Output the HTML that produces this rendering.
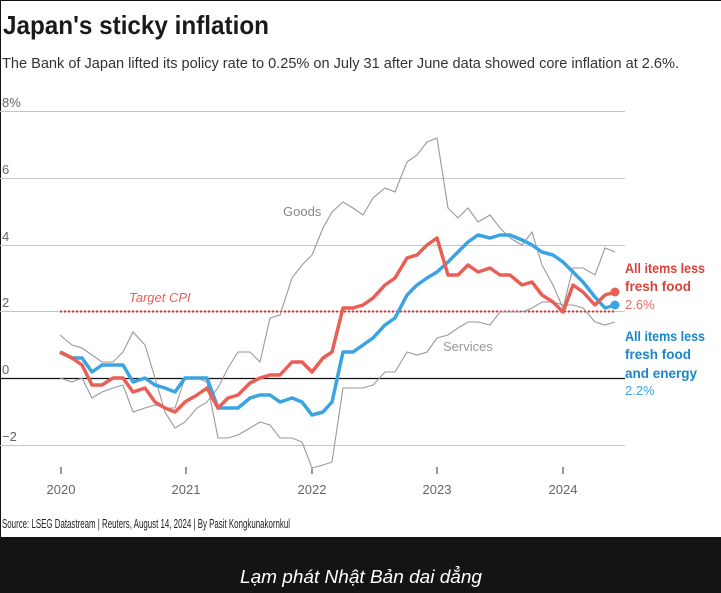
<!DOCTYPE html>
<html><head><meta charset="utf-8"><style>
html,body{margin:0;padding:0;background:#fff}
body{width:721px;height:593px;overflow:hidden;position:relative}
svg{position:absolute;left:0;top:0}
</style></head><body>
<svg width="721" height="593" viewBox="0 0 721 593" font-family="Liberation Sans, sans-serif">
<rect x="0" y="0" width="721" height="593" fill="#fff"/>
<line x1="0.5" y1="0" x2="0.5" y2="537" stroke="#111" stroke-width="1"/>
<line x1="0" y1="0.5" x2="721" y2="0.5" stroke="#111" stroke-width="1"/>
<text x="3" y="34" font-size="26" font-weight="bold" fill="#1a1a1a" textLength="266" lengthAdjust="spacingAndGlyphs">Japan's sticky inflation</text>
<text x="2" y="68" font-size="15" fill="#333" textLength="677" lengthAdjust="spacingAndGlyphs">The Bank of Japan lifted its policy rate to 0.25% on July 31 after June data showed core inflation at 2.6%.</text>
<g font-size="13" fill="#666">
<text x="2" y="107">8%</text>
<text x="2" y="174">6</text>
<text x="2" y="241">4</text>
<text x="2" y="307">2</text>
<text x="2" y="374">0</text>
<text x="2" y="441">−2</text>
</g>
<g stroke="#c4c4c4" stroke-width="1">
<line x1="0" y1="111.5" x2="625" y2="111.5"/>
<line x1="0" y1="178.5" x2="625" y2="178.5"/>
<line x1="0" y1="245.5" x2="625" y2="245.5"/>
<line x1="0" y1="311.5" x2="625" y2="311.5"/>
<line x1="0" y1="445.5" x2="625" y2="445.5"/>
</g>
<line x1="0" y1="378.5" x2="625" y2="378.5" stroke="#111" stroke-width="1.2"/>
<g stroke="#333" stroke-width="1">
<line x1="61" y1="467" x2="61" y2="474"/><line x1="186" y1="467" x2="186" y2="474"/><line x1="312" y1="467" x2="312" y2="474"/><line x1="437" y1="467" x2="437" y2="474"/><line x1="563" y1="467" x2="563" y2="474"/>
</g>
<g font-size="13" fill="#666" text-anchor="middle">
<text x="61" y="494">2020</text><text x="186" y="494">2021</text><text x="312" y="494">2022</text><text x="437" y="494">2023</text><text x="563" y="494">2024</text>
</g>
<line x1="60" y1="311.5" x2="615" y2="311.5" stroke="#e03030" stroke-width="2" stroke-dasharray="2,2"/>
<text x="129" y="302" font-size="13" font-style="italic" fill="#e8625a">Target CPI</text>
<g fill="none" stroke="#999" stroke-width="1.1">
<polyline points="60,335 72,345 82,348 92,355 102,362 113,362 123,352 133,332 145,345 155,378 165,412 175,428 185,422 197,408 207,402 218,388 228,368 238,352 250,352 260,362 270,318 280,315 292,278 302,265 312,255 323,228 332,212 343,202 353,208 363,215 373,198 385,188 395,192 407,162 417,155 427,142 437,138 448,208 458,218 468,208 478,222 490,215 500,228 510,238 522,245 532,232 542,265 553,285 563,308 573,268 583,268 595,275 605,248 615,252"/>
<polyline points="60,378 72,382 82,378 92,398 102,392 113,388 123,385 133,412 145,408 155,405 165,408 175,408 185,378 197,378 207,382 218,438 228,438 238,435 250,428 260,422 270,425 280,438 292,438 302,442 312,468 323,465 332,462 343,388 353,388 363,388 373,385 385,372 395,372 407,352 417,355 427,352 437,338 448,335 458,328 468,322 478,322 490,325 500,312 510,312 522,312 532,308 542,302 553,302 563,305 573,305 583,308 595,322 605,325 615,322"/>
</g>
<text x="283" y="216" font-size="13" fill="#888">Goods</text>
<text x="443" y="351" font-size="13" fill="#999">Services</text>
<polyline fill="none" stroke="#3aa3e3" stroke-width="3.5" stroke-linejoin="round" points="60,352 72,358 82,358 92,372 102,365 113,365 123,365 133,382 145,378 155,385 165,388 175,392 185,378 197,378 207,378 218,408 228,408 238,408 250,398 260,395 270,395 280,402 292,398 302,402 312,415 323,412 332,402 343,352 353,352 363,345 373,338 385,325 395,318 407,295 417,285 427,278 437,272 448,262 458,252 468,242 478,235 490,238 500,235 510,235 522,240 532,245 542,252 553,255 563,262 573,272 583,282 595,297 605,308 615,305"/>
<polyline fill="none" stroke="#ea5f55" stroke-width="3.5" stroke-linejoin="round" points="60,352 72,358 82,365 92,385 102,385 113,378 123,378 133,392 145,388 155,402 165,408 175,412 185,402 197,395 207,388 218,408 228,398 238,395 250,383 260,378 270,375 280,375 292,362 302,362 312,372 323,358 332,352 343,308 353,308 363,305 373,298 385,285 395,278 407,258 417,255 427,245 437,238 448,275 458,275 468,265 478,272 490,268 500,275 510,275 522,285 532,282 542,295 553,302 563,312 573,285 583,292 595,305 605,295 615,292"/>
<circle cx="615" cy="292" r="4.5" fill="#ea5f55"/>
<circle cx="615" cy="305" r="4.5" fill="#3aa3e3"/>
<g font-size="13.5" font-weight="bold" fill="#d9433b">
<text x="625" y="273" textLength="80" lengthAdjust="spacingAndGlyphs">All items less</text><text x="625" y="291">fresh food</text>
</g>
<text x="625" y="309" font-size="13" fill="#ea6a62">2.6%</text>
<g font-size="13.5" font-weight="bold" fill="#1a86c8">
<text x="625" y="341" textLength="80" lengthAdjust="spacingAndGlyphs">All items less</text><text x="625" y="359">fresh food</text><text x="625" y="378">and energy</text>
</g>
<text x="625" y="395" font-size="13" fill="#3aa3e3">2.2%</text>
<text x="2" y="528" font-size="12.5" fill="#222" textLength="288" lengthAdjust="spacingAndGlyphs">Source: LSEG Datastream | Reuters, August 14, 2024 | By Pasit Kongkunakornkul</text>
<rect x="0" y="537" width="721" height="56" fill="#141414"/>
<text x="361" y="583" font-size="18" font-style="italic" fill="#fff" text-anchor="middle" textLength="242" lengthAdjust="spacingAndGlyphs">Lạm phát Nhật Bản dai dẳng</text>
</svg>
</body></html>
